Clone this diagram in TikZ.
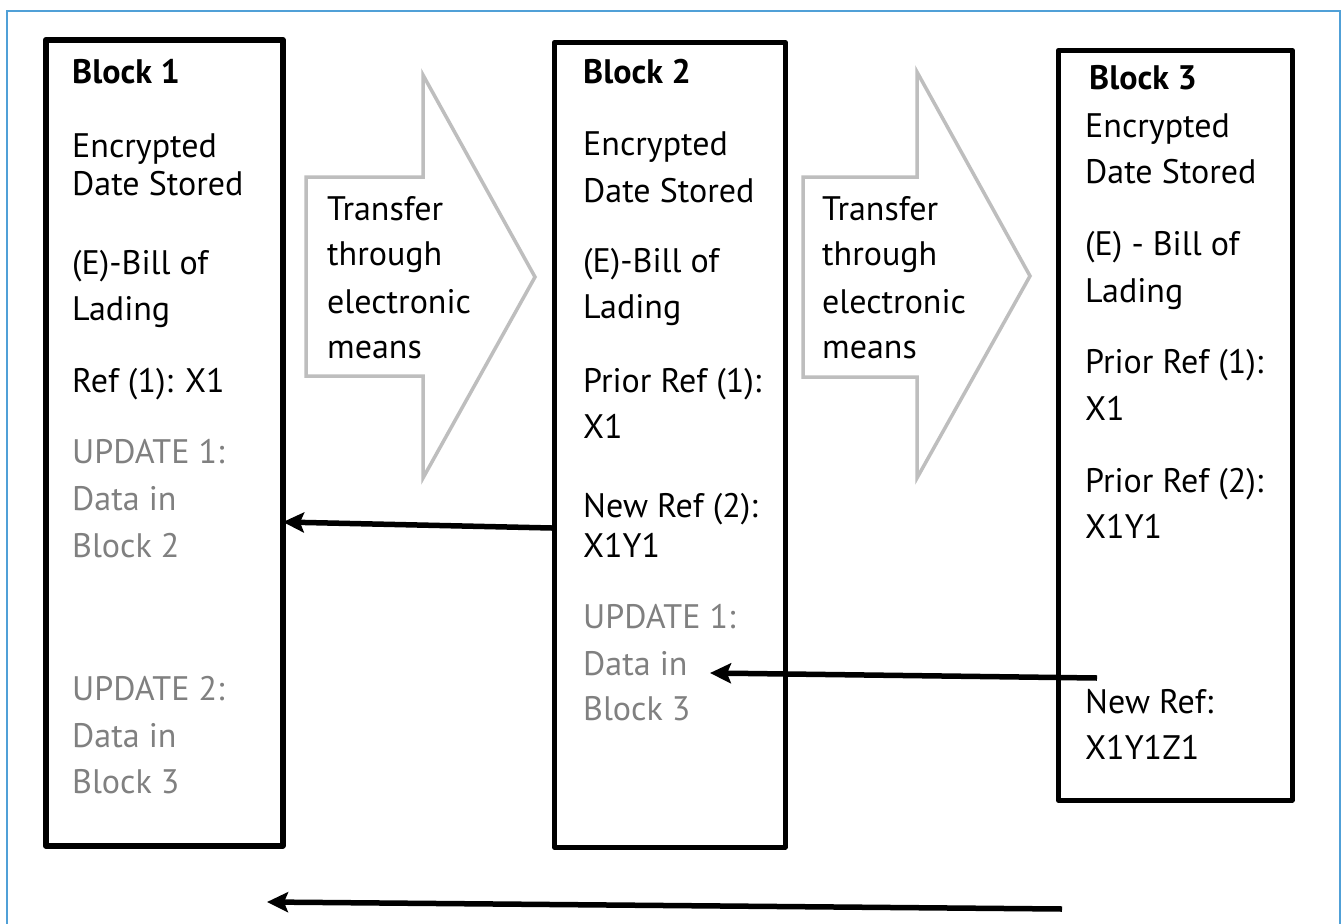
\documentclass[tikz,border=0pt]{standalone}
\usepackage{fontspec}
\setmainfont{PT Sans}
\usetikzlibrary{arrows.meta}
\definecolor{frameblue}{RGB}{80,160,215}
\definecolor{arrowgray}{RGB}{190,190,190}
\definecolor{txtgray}{RGB}{128,128,128}
\tikzset{
  txt/.style={anchor=base west, inner sep=0pt, font=\fontsize{34}{40}\selectfont},
  ttl/.style={anchor=base west, inner sep=0pt, font=\fontsize{34}{40}\selectfont\bfseries},
  upd/.style={txt, text=txtgray},
  blockbox/.style={draw, line width=4.5pt, anchor=north west, inner sep=0pt, line join=round},
  transfer/.style={draw=arrowgray, line width=3.5pt, line join=miter, fill=white},
  conn/.style={line width=5.5pt, -{Stealth[length=21pt,width=20pt,inset=4pt]}},
}
\begin{document}
\begin{tikzpicture}[x=1pt,y=-1pt]
\useasboundingbox (0,0) rectangle (1342,924);
\fill[white] (0,0) rectangle (1342,924);
\draw[frameblue, line width=2pt] (7,940) -- (7,11) -- (1340,11) -- (1340,940);

% blocks
\node[blockbox, line width=5.5pt, minimum width=237pt, minimum height=806pt] (B1) at (43,37) {};
\node[blockbox, minimum width=231pt, minimum height=805pt] (B2) at (552,40) {};
\node[blockbox, minimum width=234pt, minimum height=750pt] (B3) at (1056,48) {};

% transfer arrows
\draw[transfer] (306,177) -- (423,177) -- (423,75) -- (535,277) -- (423,478) -- (423,376) -- (306,376) -- cycle;
\draw[transfer] (803,177) -- (917,177) -- (917,72) -- (1030,276) -- (917,478) -- (917,377) -- (803,377) -- cycle;

\node[txt] (t1a) at (327,220) {Transfer};
\node[txt] (t1b) at (327,265) {through};
\node[txt] (t1c) at (327,313) {electronic};
\node[txt] (t1d) at (327,358) {means};
\node[txt] (t2a) at (822,220) {Transfer};
\node[txt] (t2b) at (822,265) {through};
\node[txt] (t2c) at (822,313) {electronic};
\node[txt] (t2d) at (822,358) {means};

% block 1 text
\node[ttl] (a0) at (72,83) {Block 1};
\node[txt] (a1) at (72,157) {Encrypted};
\node[txt] (a2) at (72,195) {Date Stored};
\node[txt] (a3) at (72,274) {(E)-Bill of};
\node[txt] (a4) at (72,320) {Lading};
\node[txt] (a5) at (72,392) {Ref (1): X1};
\node[upd] (a6) at (72,463) {UPDATE 1:};
\node[upd] (a7) at (72,510) {Data in};
\node[upd] (a8) at (72,557) {Block 2};
\node[upd] (a9) at (72,700) {UPDATE 2:};
\node[upd] (a10) at (72,747) {Data in};
\node[upd] (a11) at (72,793) {Block 3};

% block 2 text
\node[ttl] (b0) at (583,83) {Block 2};
\node[txt] (b1) at (583,155) {Encrypted};
\node[txt] (b2) at (583,202) {Date Stored};
\node[txt] (b3) at (583,272) {(E)-Bill of};
\node[txt] (b4) at (583,318) {Lading};
\node[txt] (b5) at (583,392) {Prior Ref (1):};
\node[txt] (b6) at (583,438) {X1};
\node[txt] (b7) at (583,517) {New Ref (2):};
\node[txt] (b8) at (583,557) {X1Y1};
\node[upd] (b9) at (583,628) {UPDATE 1:};
\node[upd] (b10) at (583,675) {Data in};
\node[upd] (b11) at (583,720) {Block 3};

% block 3 text
\node[ttl] (c0) at (1089,89) {Block 3};
\node[txt] (c1) at (1085,137) {Encrypted};
\node[txt] (c2) at (1085,183) {Date Stored};
\node[txt] (c3) at (1085,255) {(E) - Bill of};
\node[txt] (c4) at (1085,302) {Lading};
\node[txt] (c5) at (1085,373) {Prior Ref (1):};
\node[txt] (c6) at (1085,420) {X1};
\node[txt] (c7) at (1085,492) {Prior Ref (2):};
\node[txt] (c8) at (1085,538) {X1Y1};
\node[txt] (c9) at (1085,713) {New Ref:};
\node[txt] (c10) at (1085,759) {X1Y1Z1};

% connectors
\coordinate (u1s) at (552,528);
\coordinate (u1e) at (283,522);
\coordinate (u2s) at (1097,678);
\coordinate (u2e) at (710,673);
\coordinate (u3s) at (1062,909);
\coordinate (u3e) at (267,902);
\draw[conn] (u1s) -- (u1e);
\draw[conn] (u2s) -- (u2e);
\draw[conn] (u3s) -- (u3e);
\end{tikzpicture}
\end{document}
